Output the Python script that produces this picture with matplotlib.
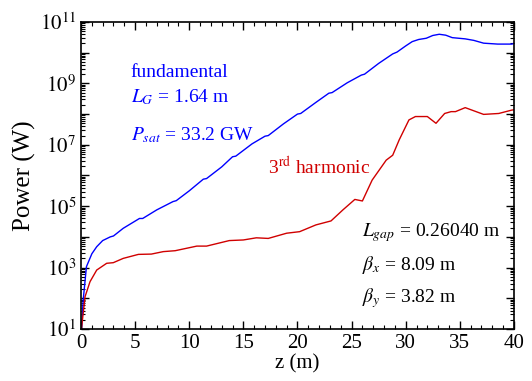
import matplotlib
matplotlib.use("Agg")
from matplotlib import pyplot as plt
from matplotlib import ticker
import numpy as np

plt.rcParams['font.family'] = 'Liberation Serif'
plt.rcParams['mathtext.fontset'] = 'stix'

# fundamental: z (m) and log10(power in W)
z_fund = [0.0, 0.06, 0.2, 0.5, 1.0, 1.45, 2.0, 2.7, 3.0, 3.9, 5.4, 5.7, 7.0, 8.5, 8.8,
          10.0, 11.3, 11.6, 13.0, 14.0, 14.3, 15.8, 17.0, 17.3, 18.7, 20.0, 20.3,
          21.7, 22.9, 23.2, 24.6, 25.9, 26.2, 27.5, 28.8, 29.2, 30.0, 30.6, 31.2,
          31.9, 32.5, 33.1, 33.7, 34.3, 35.5, 36.3, 37.2, 38.5, 39.8, 40.0]
logp_fund = [0.8, 1.07, 1.94, 3.03, 3.45, 3.68, 3.88, 4.0, 4.03, 4.28, 4.6, 4.6, 4.88,
             5.15, 5.18, 5.5, 5.88, 5.9, 6.28, 6.61, 6.63, 7.03, 7.28, 7.30, 7.68,
             8.0, 8.02, 8.38, 8.68, 8.70, 9.02, 9.27, 9.30, 9.65, 9.96, 10.02, 10.22,
             10.36, 10.43, 10.47, 10.56, 10.60, 10.57, 10.49, 10.45, 10.40, 10.31,
             10.28, 10.28, 10.30]

# 3rd harmonic
z_harm = [0.0, 0.06, 0.37, 0.83, 1.45, 2.37, 2.98, 3.9, 5.3, 6.5, 7.6, 8.7, 10.7,
          11.6, 13.7, 15.0, 16.2, 17.3, 19.0, 20.2, 21.7, 23.1, 24.2, 25.3, 26.0,
          26.9, 28.2, 28.8, 29.4, 30.3, 30.9, 32.0, 32.8, 33.6, 34.2, 34.6, 35.5,
          37.2, 38.6, 39.8, 40.0]
logp_harm = [0.8, 1.07, 2.05, 2.54, 2.92, 3.14, 3.16, 3.30, 3.43, 3.44, 3.52, 3.55,
             3.70, 3.70, 3.88, 3.90, 3.97, 3.95, 4.12, 4.17, 4.39, 4.52, 4.88, 5.22,
             5.17, 5.85, 6.50, 6.66, 7.16, 7.81, 7.92, 7.92, 7.70, 8.02, 8.08, 8.08,
             8.21, 7.99, 8.02, 8.13, 8.14]

fig = plt.figure(figsize=(5.32, 3.81), dpi=100)
ax = fig.add_axes([0.1523, 0.1365, 0.8137, 0.8058])

ax.plot(z_fund, 10 ** np.array(logp_fund), color='#0000ff', linewidth=1)
ax.plot(z_harm, 10 ** np.array(logp_harm), color='#d00000', linewidth=1)

ax.set_yscale('log')
ax.set_xlim(0, 40)
ax.set_ylim(1e1, 1e11)

ax.xaxis.set_major_locator(ticker.MultipleLocator(5))
ax.xaxis.set_minor_locator(ticker.MultipleLocator(1))
ax.yaxis.set_major_locator(ticker.LogLocator(base=10, numticks=20))
ax.yaxis.set_minor_locator(ticker.LogLocator(base=10, subs=np.arange(2, 10), numticks=20))


def ylab(v, pos):
    e = int(round(np.log10(v)))
    return r'$10^{%d}$' % e if e % 2 == 1 else ''


ax.yaxis.set_major_formatter(ticker.FuncFormatter(ylab))
ax.yaxis.set_minor_formatter(ticker.NullFormatter())
ax.tick_params(which='both', direction='in', top=True, right=True, labelsize=15)
ax.tick_params(which='major', length=6, width=1)
ax.tick_params(which='minor', length=3, width=0.8)
for s in ax.spines.values():
    s.set_linewidth(1.2)

ax.set_xlabel('z (m)', fontsize=15, labelpad=1)
ax.set_ylabel('Power (W)', fontsize=18, labelpad=3)

tr = ax.transAxes
ax.text(0.115, 0.821, 'fundamental', color='#0000ff', fontsize=14, transform=tr, va='baseline')
ax.text(0.115, 0.739, r'$L_G$ = 1.64 m', color='#0000ff', fontsize=14, transform=tr, va='baseline')
ax.text(0.115, 0.616, r'$P_{sat}$ = 33.2 GW', color='#0000ff', fontsize=14, transform=tr, va='baseline')
ax.text(0.432, 0.502, r'3$^{\rm rd}$ harmonic', color='#d00000', fontsize=14, transform=tr, va='baseline')
ax.text(0.649, 0.303, r'$L_{gap}$ = 0.26040 m', color='black', fontsize=14, transform=tr, va='baseline')
ax.text(0.649, 0.192, r'$\beta_x$ = 8.09 m', color='black', fontsize=14, transform=tr, va='baseline')
ax.text(0.649, 0.088, r'$\beta_y$ = 3.82 m', color='black', fontsize=14, transform=tr, va='baseline')

fig.savefig('out.png', dpi=100)
